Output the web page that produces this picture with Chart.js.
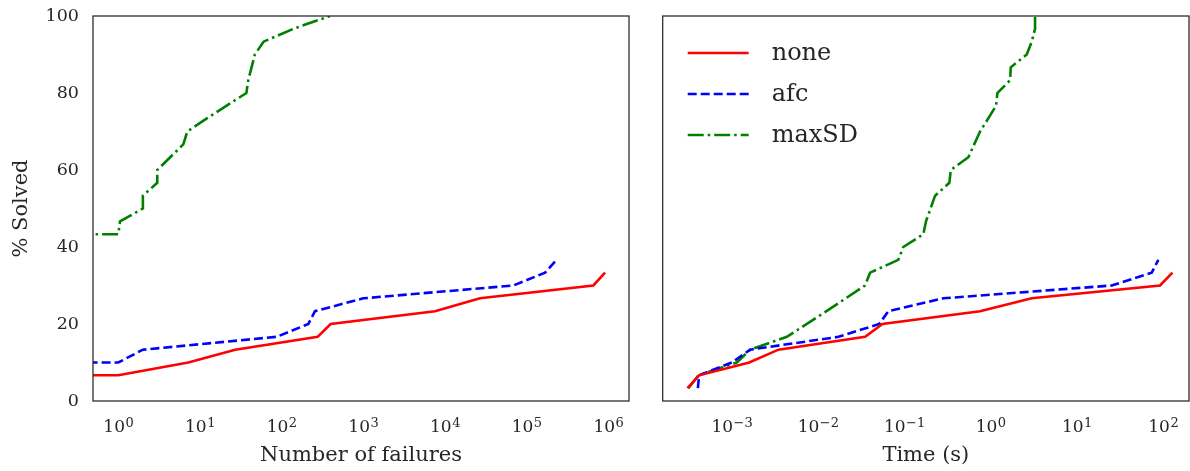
<!DOCTYPE html>
<html><head><meta charset="utf-8">
<script src="https://cdn.jsdelivr.net/npm/chart.js@4/dist/chart.umd.min.js"></script>
<style>
html,body{margin:0;padding:0;background:#fff;}
#wrap{position:relative;width:1190px;height:471px;overflow:hidden;}
canvas{position:absolute;top:0;}
</style></head><body>
<div id="wrap">
<canvas id="c1" width="645" height="471" style="left:0"></canvas>
<canvas id="c2" width="545" height="471" style="left:645px"></canvas>
</div>
<script>
// ---- Data (left: number of failures) ----
const seriesNames = ['none', 'afc', 'maxSD'];
const leftNoneX  = [0.3, 1, 7.2, 27, 276, 398, 7550, 26800, 655000, 911000];
const leftNoneY  = [6.67, 6.67, 10, 13.33, 16.67, 20, 23.33, 26.67, 30, 33.33];
const leftAfcX   = [0.3, 1, 2, 87, 212, 256, 1000, 68700, 168000, 233000];
const leftAfcY   = [10, 10, 13.33, 16.67, 20, 23.33, 26.67, 30, 33.33, 36.67];
const leftMaxX   = [0.3, 1, 1.05, 2, 2, 3, 3, 6.25, 7, 12, 21, 37, 39, 47, 60, 139, 391];
const leftMaxY   = [43.33, 43.33, 46.67, 50, 53.33, 56.67, 60, 66.67, 70, 73.33, 76.67, 80, 83.33, 90, 93.33, 96.67, 100];
// ---- Data (right: time in seconds) ----
const rightNoneX = [3.06e-4, 4.18e-4, 1.59e-3, 3.47e-3, 0.0351, 0.0556, 0.753, 2.99, 91.8, 128];
const rightNoneY = [3.33, 6.67, 10, 13.33, 16.67, 20, 23.33, 26.67, 30, 33.33];
const rightAfcX  = [4.04e-4, 4.18e-4, 1e-3, 1.63e-3, 0.0172, 0.051, 0.0653, 0.283, 25.3, 73.6, 87.8];
const rightAfcY  = [3.33, 6.67, 10, 13.33, 16.67, 20, 23.33, 26.67, 30, 33.33, 36.67];
const rightMaxX  = [3.14e-4, 4.1e-4, 1.14e-3, 1.63e-3, 4.34e-3, 0.0125, 0.035, 0.040, 0.085, 0.097, 0.166, 0.178, 0.227, 0.332, 0.345, 0.552, 0.753, 1.156, 1.196, 1.68, 1.71, 2.62, 2.99, 3.27, 3.27];
const rightMaxY  = [3.33, 6.67, 10, 13.33, 16.67, 23.33, 30, 33.33, 36.67, 40, 43.33, 46.67, 53.33, 56.67, 60, 63.33, 70, 76.67, 80, 83.33, 86.67, 90, 93.33, 96.67, 100];
// ---- Axes ----
const leftTicks  = [1, 10, 100, 1e3, 1e4, 1e5, 1e6];
const rightTicks = [1e-3, 1e-2, 1e-1, 1, 10, 100];
const yTicks     = [0, 20, 40, 60, 80, 100];
const leftRange  = [0.49, 1.79e6];
const rightRange = [1.58e-4, 199];
const xTitles    = ['Number of failures', 'Time (s)'];
const yTitle     = '% Solved';

const colors = ['#ff0000', '#0000ff', '#008000'];
const dashes = [[], [9, 4], [16, 4, 2.5, 4]];
const TXT = '#262626';
const FONT = '"DejaVu Serif", serif';

function pts(xs, ys) { return xs.map((x, i) => ({x: x, y: ys[i]})); }
function mkSets(groups) {
  return groups.map((g, i) => ({
    label: seriesNames[i], data: pts(g[0], g[1]),
    borderColor: colors[i], backgroundColor: colors[i], borderDash: dashes[i],
    borderWidth: 2.6, pointRadius: 0, tension: 0, fill: false
  }));
}
const framePlugin = {
  id: 'frame',
  afterDatasetsDraw(chart) {
    const a = chart.chartArea, ctx = chart.ctx;
    ctx.save(); ctx.strokeStyle = TXT; ctx.lineWidth = 1.25;
    ctx.strokeRect(a.left, a.top, a.right - a.left, a.bottom - a.top);
    ctx.restore();
  }
};
// power-of-ten tick labels with a real raised exponent, positioned by the x scale
const powTickPlugin = {
  id: 'powticks',
  afterDraw(chart) {
    const s = chart.scales.x, a = chart.chartArea, ctx = chart.ctx;
    ctx.save(); ctx.fillStyle = TXT; ctx.textBaseline = 'alphabetic'; ctx.textAlign = 'left';
    s.ticks.forEach(t => {
      const e = Math.round(Math.log10(t.value));
      const base = '10', exp = String(e).replace('-', '\u2212');
      ctx.font = '17px ' + FONT; const wb = ctx.measureText(base).width;
      ctx.font = '13px ' + FONT; const we = ctx.measureText(exp).width;
      const px = s.getPixelForValue(t.value);
      const x0 = px - (wb + we) / 2, yb = a.bottom + 31;
      ctx.font = '17px ' + FONT; ctx.fillText(base, x0, yb);
      ctx.font = '13px ' + FONT; ctx.fillText(exp, x0 + wb + 0.5, yb - 5.5);
    });
    ctx.restore();
  }
};
const legendPlugin = {
  id: 'inlegend',
  afterDraw(chart) {
    const a = chart.chartArea, ctx = chart.ctx;
    ctx.save();
    chart.data.datasets.forEach((ds, i) => {
      const y = a.top + 37 + i * 41;
      ctx.beginPath(); ctx.setLineDash(ds.borderDash); ctx.lineWidth = 2.6;
      ctx.strokeStyle = ds.borderColor;
      ctx.moveTo(a.left + 25, y); ctx.lineTo(a.left + 86, y); ctx.stroke();
      ctx.setLineDash([]);
      ctx.fillStyle = TXT; ctx.font = '24px ' + FONT; ctx.textBaseline = 'middle';
      ctx.fillText(ds.label, a.left + 109, y + 1);
    });
    ctx.restore();
  }
};
function xScale(range, ticks, title) {
  return {
    type: 'logarithmic', min: range[0], max: range[1],
    grid: {display: false, drawTicks: false}, border: {display: false},
    afterBuildTicks(s) { s.ticks = ticks.map(v => ({value: v})); },
    afterFit(s) { s.height = 70; s.paddingLeft = 0; s.paddingRight = 0; },
    ticks: {display: false, autoSkip: false},
    title: {display: true, text: title, color: TXT, font: {family: FONT, size: 21}, padding: {top: 0, bottom: 3}}
  };
}
function yScale(show) {
  return {
    display: show, min: 0, max: 100,
    grid: {display: false, drawTicks: false}, border: {display: false},
    afterBuildTicks(s) { s.ticks = yTicks.map(v => ({value: v})); },
    afterFit(s) { if (show) s.width = 93; s.paddingTop = 0; s.paddingBottom = 0; },
    ticks: {padding: 14, color: TXT, font: {family: FONT, size: 17.5}},
    title: {display: true, text: yTitle, color: TXT, font: {family: FONT, size: 21}, padding: {top: 9, bottom: 0}}
  };
}
const common = {
  responsive: false, animation: false, devicePixelRatio: 1,
  plugins: {legend: {display: false}, tooltip: {enabled: false}},
  parsing: true
};
new Chart(document.getElementById('c1'), {
  type: 'line',
  data: {datasets: mkSets([[leftNoneX, leftNoneY], [leftAfcX, leftAfcY], [leftMaxX, leftMaxY]])},
  options: Object.assign({}, common, {
    layout: {padding: {top: 16, right: 16, left: 0, bottom: 0}},
    scales: {x: xScale(leftRange, leftTicks, xTitles[0]), y: yScale(true)}
  }),
  plugins: [framePlugin, powTickPlugin]
});
new Chart(document.getElementById('c2'), {
  type: 'line',
  data: {datasets: mkSets([[rightNoneX, rightNoneY], [rightAfcX, rightAfcY], [rightMaxX, rightMaxY]])},
  options: Object.assign({}, common, {
    layout: {padding: {top: 16, right: 1, left: 17.7, bottom: 0}},
    scales: {x: xScale(rightRange, rightTicks, xTitles[1]), y: yScale(false)}
  }),
  plugins: [framePlugin, powTickPlugin, legendPlugin]
});
</script>
</body></html>
